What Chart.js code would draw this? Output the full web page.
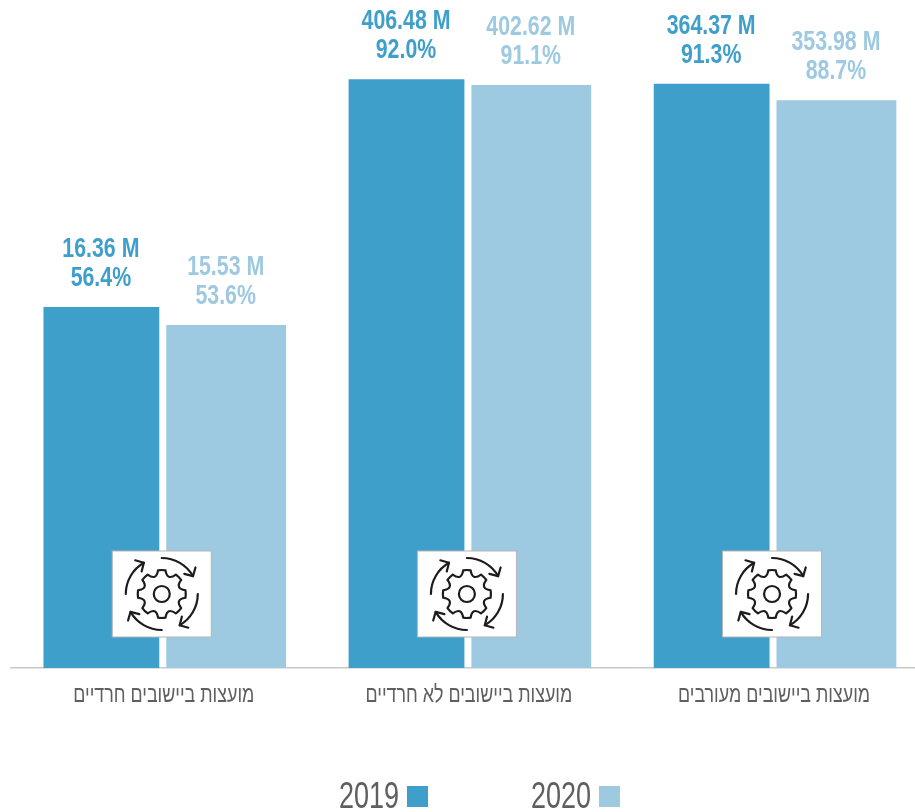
<!DOCTYPE html>
<html>
<head>
<meta charset="utf-8">
<style>
html, body { margin: 0; padding: 0; background: #fff; overflow: hidden; width: 915px; height: 812px; }
#wrap { position: relative; width: 915px; height: 812px; overflow: hidden; }
#legend { position: absolute; top: 775px; left: 319px; display: flex; font: 36px "Liberation Sans", sans-serif; color: #5f5f5f; }
#legend .item { display: flex; align-items: center; }
#legend .name { display: inline-block; transform: scaleX(.75); transform-origin: 100% 50%; }
#legend .box { width: 21px; height: 21px; margin-left: 8px; margin-top: 1px; }
#legend .item + .item { margin-left: 83px; }
</style>
</head>
<body>
<div id="wrap">
  <canvas id="myChart" width="929" height="812"></canvas>
  <div id="legend"></div>
</div>
<script src="https://cdn.jsdelivr.net/npm/chart.js@4"></script>
<script>
const categories = ['מועצות ביישובים חרדיים', 'מועצות ביישובים לא חרדיים', 'מועצות ביישובים מעורבים'];
const seriesNames = ['2019', '2020'];
const percent2019 = [56.4, 92.0, 91.3];
const percent2020 = [53.6, 91.1, 88.7];
const amounts2019 = ['16.36 M', '406.48 M', '364.37 M'];
const amounts2020 = ['15.53 M', '402.62 M', '353.98 M'];
const colors = ['#3f9fcb', '#9dc9e1'];

// no condensed face is installed, so the text gets squeezed sideways
function narrowText(ctx, text, x, y, squeeze) {
    ctx.save();
    ctx.translate(x, y);
    ctx.scale(squeeze, 1);
    ctx.fillText(text, 0, 0);
    ctx.restore();
}

// two line label over every bar
const barLabels = {
    id: 'barLabels',
    afterDatasetsDraw(chart) {
        const ctx = chart.ctx;
        ctx.save();
        ctx.font = 'bold 27px "Liberation Sans", sans-serif';
        ctx.textAlign = 'center';
        ctx.textBaseline = 'alphabetic';
        chart.data.datasets.forEach((ds, d) => {
            ctx.fillStyle = ds.backgroundColor;
            chart.getDatasetMeta(d).data.forEach((bar, i) => {
                narrowText(ctx, ds.amounts[i], bar.x - 0.5, bar.y - 50, 0.79);
                narrowText(ctx, ds.data[i].toFixed(1) + '%', bar.x - 0.5, bar.y - 21, 0.79);
            });
        });
        ctx.restore();
    }
};

// category names under the axis
const categoryLabels = {
    id: 'categoryLabels',
    afterDraw(chart) {
        const ctx = chart.ctx;
        const x = chart.scales.x;
        ctx.save();
        ctx.font = '24px "Liberation Sans", sans-serif';
        ctx.fillStyle = '#5f5f5f';
        ctx.textAlign = 'center';
        ctx.textBaseline = 'alphabetic';
        categories.forEach((c, i) => {
            narrowText(ctx, c, x.getPixelForValue(i), x.top + 34, 0.745);
        });
        ctx.restore();
    }
};

function drawArrowArc(ctx, cx, cy, r, from, to) {
    ctx.beginPath();
    ctx.arc(cx, cy, r, from, to);
    ctx.stroke();
    const ex = cx + r * Math.cos(to), ey = cy + r * Math.sin(to);
    const back = to + Math.PI / 2 + Math.PI;
    ctx.beginPath();
    ctx.moveTo(ex + 9 * Math.cos(back - 0.8), ey + 9 * Math.sin(back - 0.8));
    ctx.lineTo(ex, ey);
    ctx.lineTo(ex + 9 * Math.cos(back + 0.8), ey + 9 * Math.sin(back + 0.8));
    ctx.stroke();
}

function drawGear(ctx, cx, cy) {
    const teeth = 8, outer = 24, valley = 14;
    const w = Math.PI / teeth;
    ctx.beginPath();
    for (let t = 0; t < teeth; t++) {
        const a = t * 2 * w - Math.PI / 2;
        ctx.arc(cx, cy, outer, a - w * 0.4, a + w * 0.4);
        const mid = a + w;
        ctx.quadraticCurveTo(cx + valley * Math.cos(mid), cy + valley * Math.sin(mid),
            cx + outer * Math.cos(mid + w * 0.6), cy + outer * Math.sin(mid + w * 0.6));
    }
    ctx.closePath();
    ctx.stroke();
    ctx.beginPath();
    ctx.arc(cx, cy, 8, 0, 2 * Math.PI);
    ctx.stroke();
}

// white badge with the gear at the foot of each category
const iconBadges = {
    id: 'iconBadges',
    afterDatasetsDraw(chart) {
        const ctx = chart.ctx;
        const base = chart.scales.y.getPixelForValue(0);
        categories.forEach((c, i) => {
            const cx = chart.scales.x.getPixelForValue(i) - 2;
            const cy = base - 74;
            ctx.save();
            ctx.fillStyle = '#fff';
            ctx.strokeStyle = '#b5b5b5';
            ctx.lineWidth = 1;
            ctx.fillRect(cx - 49.5, cy - 43, 99, 86);
            ctx.strokeRect(cx - 49.5, cy - 43, 99, 86);
            ctx.strokeStyle = '#1c1c1c';
            ctx.lineWidth = 2.2;
            ctx.lineCap = 'round';
            ctx.lineJoin = 'round';
            drawGear(ctx, cx, cy);
            [-90, 0, 90, 180].forEach(deg => {
                const from = deg * Math.PI / 180;
                drawArrowArc(ctx, cx, cy, 36, from, from + 1.05);
            });
            ctx.restore();
        });
    }
};

new Chart(document.getElementById('myChart').getContext('2d'), {
    type: 'bar',
    plugins: [barLabels, iconBadges, categoryLabels],
    data: {
        labels: categories,
        datasets: [
            { label: seriesNames[0], data: percent2019, amounts: amounts2019, backgroundColor: colors[0], barPercentage: 0.928 },
            { label: seriesNames[1], data: percent2020, amounts: amounts2020, backgroundColor: colors[1], barPercentage: 0.96 }
        ]
    },
    options: {
        responsive: false,
        animation: false,
        categoryPercentage: 0.818,
        layout: { padding: { left: 11.2, top: 28, right: 2.4, bottom: 136 } },
        plugins: { legend: { display: false }, tooltip: { enabled: false } },
        scales: {
            x: {
                grid: { display: false },
                border: { color: '#c8c8c8', width: 1.5 },
                ticks: { display: false }
            },
            y: { display: false, min: 0, max: 100 }
        }
    }
});

// legend with the box on the right of the year, same as the original
const legendEl = document.getElementById('legend');
seriesNames.forEach((name, i) => {
    const item = document.createElement('div');
    item.className = 'item';
    item.innerHTML = `<span class="name">${name}</span><span class="box" style="background:${colors[i]}"></span>`;
    legendEl.appendChild(item);
});
</script>
</body>
</html>
